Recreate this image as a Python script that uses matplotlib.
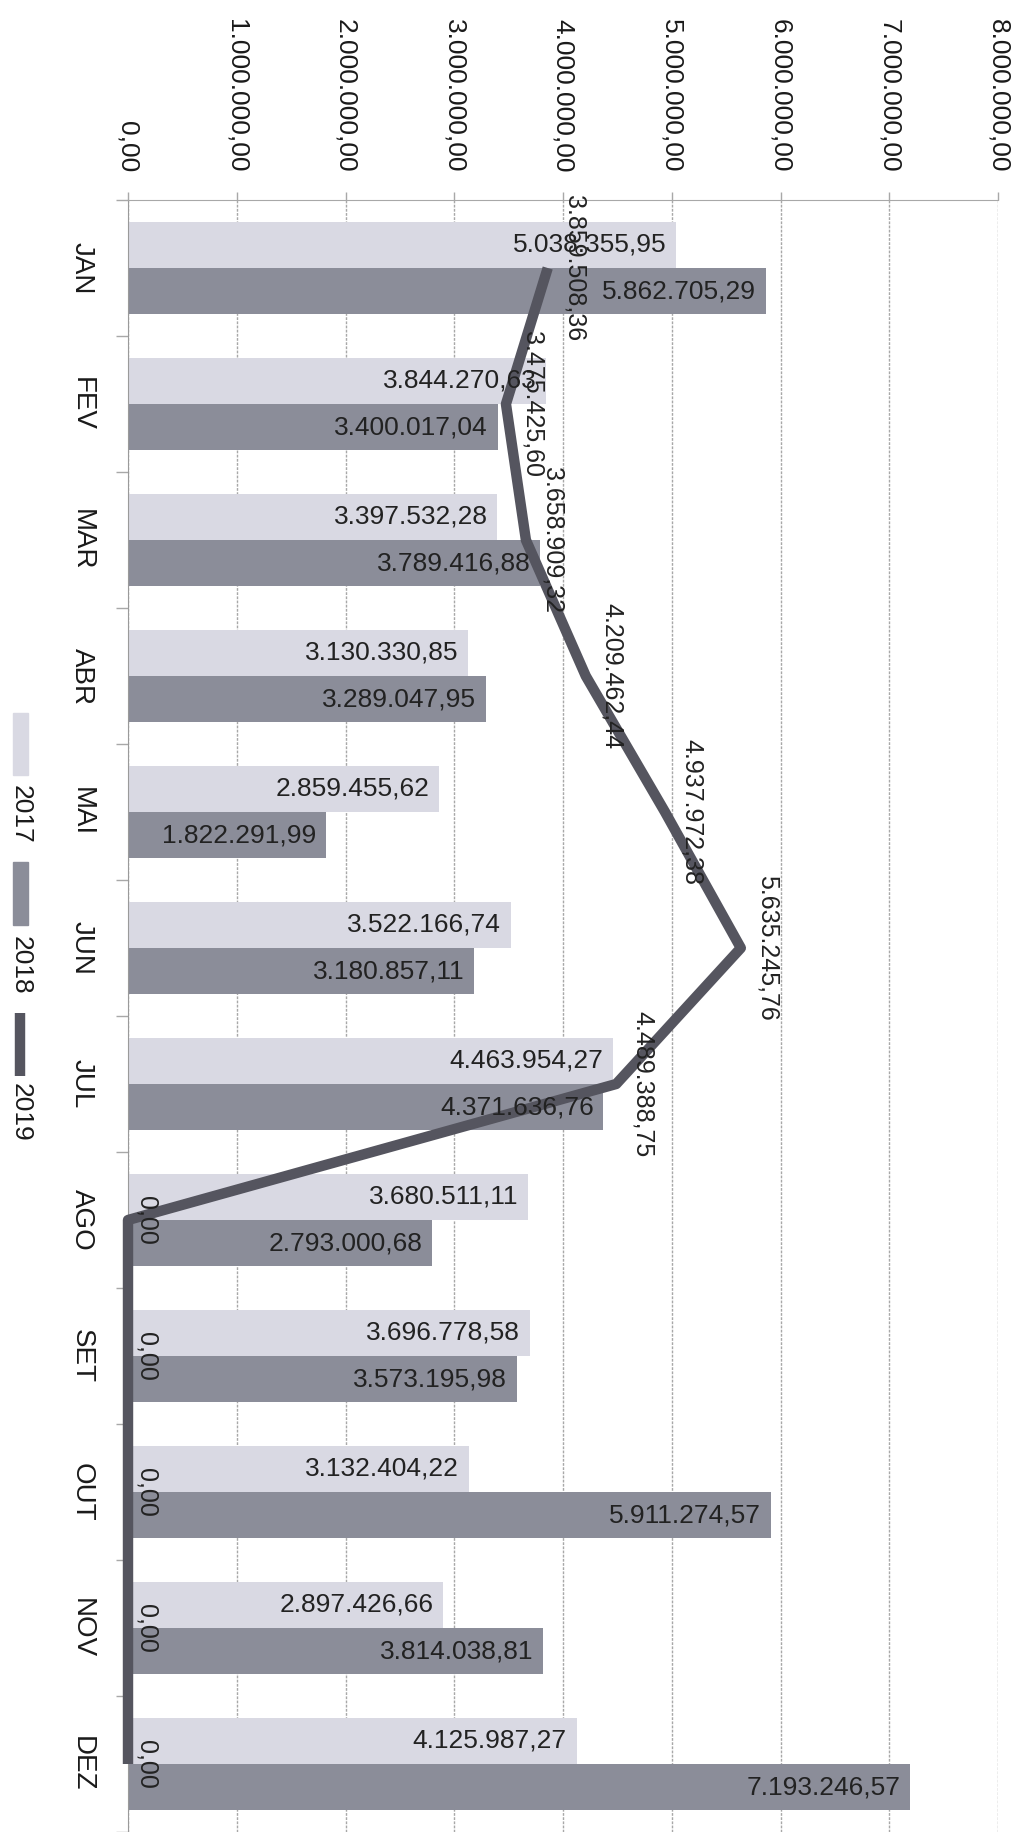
import matplotlib
matplotlib.use("Agg")
import matplotlib.pyplot as plt
from matplotlib.patches import Rectangle
from matplotlib.lines import Line2D
from matplotlib.ticker import FixedLocator, FuncFormatter
import numpy as np

plt.rcParams['font.family'] = ['Liberation Sans', 'DejaVu Sans']

months = ["JAN", "FEV", "MAR", "ABR", "MAI", "JUN", "JUL", "AGO", "SET", "OUT", "NOV", "DEZ"]
v2017 = [5038355.95, 3844270.63, 3397532.28, 3130330.85, 2859455.62, 3522166.74,
         4463954.27, 3680511.11, 3696778.58, 3132404.22, 2897426.66, 4125987.27]
v2018 = [5862705.29, 3400017.04, 3789416.88, 3289047.95, 1822291.99, 3180857.11,
         4371636.76, 2793000.68, 3573195.98, 5911274.57, 3814038.81, 7193246.57]
v2019 = [3859508.36, 3475425.60, 3658909.32, 4209462.44, 4937972.38, 5635245.76,
         4489388.75, 0.0, 0.0, 0.0, 0.0, 0.0]
series_names = ["2017", "2018", "2019"]
value_ticks = [0, 1e6, 2e6, 3e6, 4e6, 5e6, 6e6, 7e6, 8e6]

c2017 = "#d9d9e3"
c2018 = "#8b8d99"
cline = "#55555f"
cgrid = "#a8a8a8"


def br(v):
    s = f"{v:,.2f}"
    return s.replace(",", "X").replace(".", ",").replace("X", ".")


W, H = 1025, 1832
fig = plt.figure(figsize=(W / 100, H / 100), dpi=100)
ax = fig.add_axes([128 / W, 0.0, (998 - 128) / W, 1 - 200 / H])

y = np.arange(len(months))
bh = 0.34
b1 = ax.barh(y - bh / 2, v2017, height=bh, color=c2017, zorder=2)
b2 = ax.barh(y + bh / 2, v2018, height=bh, color=c2018, zorder=2)
ax.plot(v2019, y, color=cline, lw=7.5, zorder=4, clip_on=False, solid_capstyle='butt')

ax.set_xlim(0, 8e6)
ax.set_ylim(len(months) - 0.5, -0.5)

# bar labels (inside end)
for bars, vals in ((b1, v2017), (b2, v2018)):
    for rect, v in zip(bars, vals):
        cy = rect.get_y() + rect.get_height() / 2
        ax.annotate(br(v), (v, cy), xytext=(-7, 0), textcoords="offset points",
                    ha="right", va="center", fontsize=19, color="#222222", zorder=5)

# line labels
for i, v in enumerate(v2019):
    off = 19 if v > 0 else 13
    ax.annotate(br(v), (v, i), xytext=(off, 0), textcoords="offset points",
                ha="center", va="center", rotation=-90, fontsize=18,
                color="#222222", zorder=6, annotation_clip=False)

# value axis on top
ax.xaxis.tick_top()
ax.xaxis.set_major_locator(FixedLocator(value_ticks))
ax.xaxis.set_major_formatter(FuncFormatter(lambda v, p: br(v)))
ax.tick_params(axis="x", which="major", length=6, width=1, color=cgrid, pad=14,
               labelsize=19, labelrotation=-90, labelcolor="#1a1a1a")
ax.grid(axis="x", color=cgrid, lw=1, ls=(0, (2, 1)), zorder=0)

# category axis
ax.set_yticks(y)
ax.set_yticklabels(months, rotation=-90, fontsize=20, color="#1a1a1a", va="center")
ax.set_yticks(np.arange(len(months) + 1) - 0.5, minor=True)
ax.tick_params(axis="y", which="major", length=0, pad=24)
ax.tick_params(axis="y", which="minor", length=9, width=1, color=cgrid)

for s in ("right", "bottom"):
    ax.spines[s].set_visible(False)
ax.spines["left"].set_color("#9a9a9a")
ax.spines["top"].set_color(cgrid)
ax.spines["top"].set_linestyle((0, (2, 1)))
ax.set_axisbelow(True)


# legend (rotated, drawn manually in figure coordinates)
def fx(px):
    return px / W


def fy(py):
    return 1 - py / H


patch_cols = [c2017, c2018]
entries = [(713, 775, 814), (862, 925, 965), (1013, 1076, 1112)]
for k, name in enumerate(series_names):
    y0, y1, ty = entries[k]
    if k < 2:
        fig.add_artist(Rectangle((fx(13), fy(y1)), fx(28) - fx(13), fy(y0) - fy(y1),
                                 transform=fig.transFigure, color=patch_cols[k]))
    else:
        fig.add_artist(Line2D([fx(20), fx(20)], [fy(y0), fy(y1)], transform=fig.transFigure,
                              color=cline, lw=7.5, solid_capstyle='butt'))
    fig.text(fx(21), fy(ty), name, rotation=-90, ha="center", va="center",
             fontsize=19, color="#1a1a1a")

fig.savefig("out.png", dpi=100)
